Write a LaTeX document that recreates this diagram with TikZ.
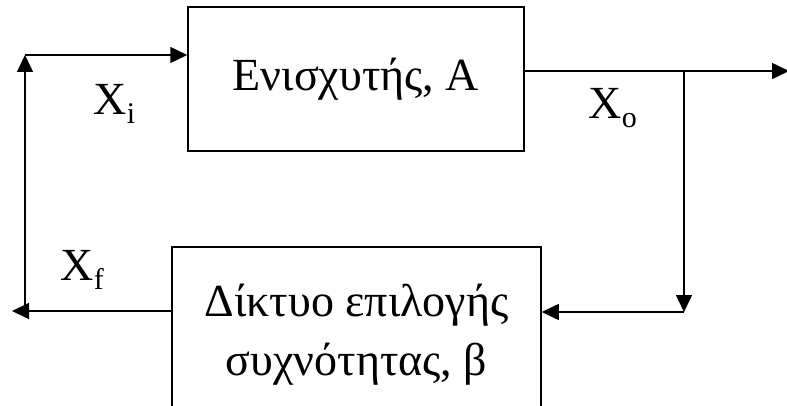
\documentclass[tikz,border=0pt]{standalone}
\usepackage{fontspec}
\setmainfont{Liberation Serif}
\usetikzlibrary{arrows.meta}
\begin{document}
\begin{tikzpicture}[x=1pt,y=1pt,
  line width=1.5pt,
  arr/.style={-{Triangle[length=17pt,width=16pt]}},
  blk/.style={draw,line width=1.5pt,inner sep=0pt,font=\fontsize{46}{59}\selectfont,align=center},
  lbl/.style={inner sep=0pt,anchor=base west,font=\fontsize{46}{55}\selectfont}]
\useasboundingbox (0,0) rectangle (787,-406);
\node[blk,minimum width=336pt,minimum height=144pt] (A) at (356,-79) {Ενισχυτής, A};
\node[blk,minimum width=369pt,minimum height=175pt] (B) at (356.5,-334.5) {Δίκτυο επιλογής\\ συχνότητας, β};
\coordinate (lt) at (25,-55);
\coordinate (lb) at (25,-311);
\coordinate (le) at (12,-311);
\coordinate (tap) at (684,-71);
\coordinate (tb) at (684,-312);
\coordinate (out) at (789,-71);
\draw[arr] (lt) -- (lt -| A.west);
\draw[arr] (A.east |- tap) -- (out);
\draw[arr] (tap) -- (tb);
\draw[arr] (tb) -- (tb -| B.east);
\draw[arr] (B.west |- le) -- (le);
\draw[arr] (lb) -- (lt);
\node[lbl] (xi) at (93,-115) {X\raisebox{-9pt}{\fontsize{30}{30}\selectfont i}};
\node[lbl] (xo) at (588,-119) {X\raisebox{-9pt}{\fontsize{30}{30}\selectfont o}};
\node[lbl] (xf) at (60,-280) {X\raisebox{-9pt}{\fontsize{30}{30}\selectfont f}};
\end{tikzpicture}
\end{document}
